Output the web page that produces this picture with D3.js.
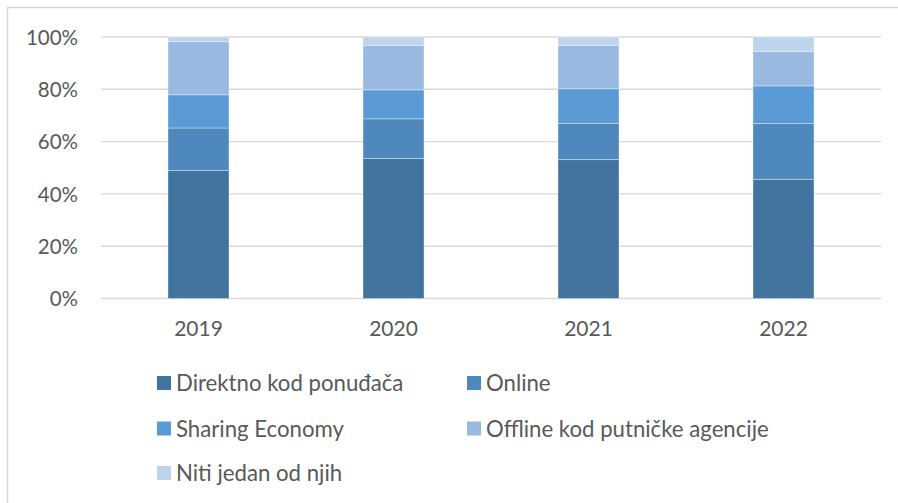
<!DOCTYPE html>
<html>
<head>
<meta charset="utf-8">
<script src="https://cdn.jsdelivr.net/npm/d3@7"></script>
<style>
  html, body { margin: 0; padding: 0; background: #fff; }
  svg text { font-family: "Lato", "Liberation Sans", sans-serif; fill: #595959; }
</style>
</head>
<body>
<svg id="chart" width="898" height="503"></svg>
<script>
// categories
const years = ["2019", "2020", "2021", "2022"];
// series values (share in %)
const direktno = [48.9, 53.5, 53.1, 45.6];
const online = [16.3, 15.2, 13.9, 21.3];
const sharing = [12.7, 11.1, 13.2, 14.4];
const offline = [20.3, 16.9, 16.5, 13.1];
const niti = [1.8, 3.3, 3.3, 5.6];
const seriesNames = ["Direktno kod ponuđača", "Online", "Sharing Economy", "Offline kod putničke agencije", "Niti jedan od njih"];
const seriesColors = ["#43739f", "#4e88bc", "#5b9bd5", "#99b9e0", "#bed3ec"];
const yTicks = [0, 0.2, 0.4, 0.6, 0.8, 1];

// build table for d3.stack
const allSeries = [direktno, online, sharing, offline, niti];
const rows = years.map(function(y, i) {
  let r = { year: y };
  seriesNames.forEach(function(n, k) { r[n] = allSeries[k][i]; });
  return r;
});

const svg = d3.select("#chart");

// outer frame (only top + left visible in the picture)
svg.append("line").attr("x1", 7).attr("x2", 898).attr("y1", 7.5).attr("y2", 7.5)
  .style("stroke", "#d9d9d9").style("stroke-width", 1.5);
svg.append("line").attr("x1", 7.5).attr("x2", 7.5).attr("y1", 7).attr("y2", 503)
  .style("stroke", "#d9d9d9").style("stroke-width", 1.5);

let x = d3.scaleBand().domain(years).range([101, 881])
  .paddingInner(0.687).paddingOuter(0.3435);
let y = d3.scaleLinear().domain([0, 1]).range([298.5, 37]);

// gridlines
svg.append("g").selectAll("line").data(yTicks).enter().append("line")
  .attr("x1", 101).attr("x2", 881)
  .attr("y1", function(d) { return y(d); })
  .attr("y2", function(d) { return y(d); })
  .style("stroke", "#d9d9d9").style("stroke-width", 1.4);

// y axis labels
let yAxis = svg.append("g").attr("transform", "translate(78,0)")
  .call(d3.axisLeft(y).tickValues(yTicks).tickFormat(d3.format(".0%")).tickSize(0).tickPadding(0));
yAxis.select(".domain").remove();
yAxis.selectAll("text").style("font-size", "20.5px").attr("dy", "0.36em");

// stacked bars
const stack = d3.stack().keys(seriesNames).offset(d3.stackOffsetExpand);
const layers = stack(rows);

svg.append("g").selectAll("g").data(layers).enter().append("g")
  .style("fill", function(d, i) { return seriesColors[i]; })
  .selectAll("rect").data(function(d) { return d; }).enter().append("rect")
  .attr("x", function(d) { return x(d.data.year); })
  .attr("width", x.bandwidth())
  .attr("y", function(d) { return y(d[1]); })
  .attr("height", function(d) { return y(d[0]) - y(d[1]); })
  .style("stroke", "#ffffff").style("stroke-opacity", 0.45).style("stroke-width", 0.8);

// x axis labels
let xAxis = svg.append("g").attr("transform", "translate(0,319)")
  .call(d3.axisBottom(x).tickSize(0).tickPadding(0));
xAxis.select(".domain").remove();
xAxis.selectAll("text").style("font-size", "21px").attr("dy", "0.8em");

// legend
const legendPos = [[157, 383], [467, 383], [157, 428.5], [467, 428.5], [157, 473]];
let legend = svg.append("g").selectAll("g").data(seriesNames).enter().append("g")
  .attr("transform", function(d, i) { return "translate(" + legendPos[i][0] + "," + legendPos[i][1] + ")"; });
legend.append("rect").attr("x", 0).attr("y", -7).attr("width", 14).attr("height", 14)
  .style("fill", function(d, i) { return seriesColors[i]; });
legend.append("text").attr("x", 19).attr("y", 0).attr("dy", "0.36em")
  .style("font-size", "22.2px")
  .text(function(d) { return d; });
</script>
</body>
</html>
